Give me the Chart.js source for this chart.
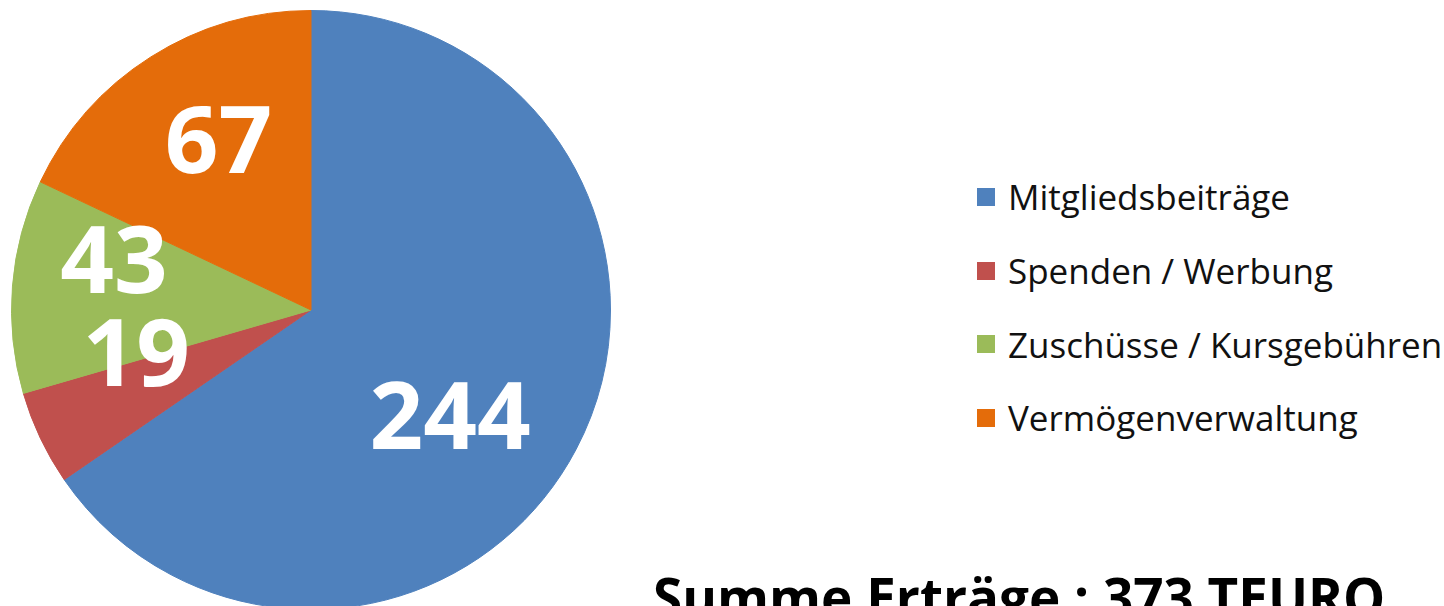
<!DOCTYPE html>
<html>
<head>
<meta charset="utf-8">
<script src="https://cdn.jsdelivr.net/npm/chart.js@4"></script>
<style>
  html, body { margin: 0; padding: 0; background: #fff; }
  body { width: 1444px; height: 606px; overflow: hidden; position: relative; font-family: "Open Sans", sans-serif; }
  #pieBox { position: absolute; left: 0; top: 0; width: 622px; height: 622px; }
  .legend { position: absolute; left: 977px; top: 160px; }
  .legend__item { height: 73.7px; display: flex; align-items: center; font-size: 35px; color: #111; }
  .legend__box { width: 18px; height: 18px; margin-right: 13px; flex: none; }
  .title { position: absolute; left: 653px; top: 560px; font-size: 53px; font-weight: 700; color: #000; white-space: nowrap; }
</style>
</head>
<body>
<div id="pieBox"><canvas id="pie-chart"></canvas></div>
<div class="legend" id="legend"></div>
<div class="title" id="title"></div>
<script>
// data
const categories = ["Mitgliedsbeiträge", "Spenden / Werbung", "Zuschüsse / Kursgebühren", "Vermögenverwaltung"];
const values = [244, 19, 43, 67];
const colors = ["#4F81BD", "#C0504D", "#9BBB59", "#E46C0A"];

/* =============================== */
/* Legend + title */
/* =============================== */
const legend = document.getElementById("legend");
categories.forEach(function (name, i) {
    const row = document.createElement("div");
    row.className = "legend__item";
    row.innerHTML = '<span class="legend__box" style="background:' + colors[i] + '"></span>' + name;
    legend.appendChild(row);
});
const total = values.reduce(function (a, b) { return a + b; }, 0);
document.getElementById("title").textContent = "Summe Erträge : " + total + " TEURO";

/* =============================== */
/* Value labels inside the slices */
/* =============================== */
const sliceLabels = {
    id: "sliceLabels",
    afterDatasetsDraw(chart, args, opts) {
        const ctx = chart.ctx;
        const meta = chart.getDatasetMeta(0);
        ctx.save();
        ctx.fillStyle = "#fff";
        ctx.font = "700 94px 'Open Sans'";
        ctx.textAlign = "center";
        ctx.textBaseline = "middle";
        meta.data.forEach(function (arc, i) {
            const p = arc.getProps(["x", "y", "startAngle", "endAngle", "outerRadius"], true);
            const mid = (p.startAngle + p.endAngle) / 2 + opts.shift[i] * Math.PI / 180;
            const r = p.outerRadius * opts.dist[i];
            ctx.fillText(chart.data.datasets[0].data[i], p.x + Math.cos(mid) * r, p.y + Math.sin(mid) * r + opts.dy);
        });
        ctx.restore();
    }
};

/* =============================== */
/* Chart.js */
/* =============================== */
new Chart(document.getElementById("pie-chart"), {
    type: "pie",
    data: {
        labels: categories,
        datasets: [{
            data: values,
            backgroundColor: colors,
            borderColor: colors,
            borderWidth: 1
        }]
    },
    options: {
        responsive: true,
        maintainAspectRatio: false,
        animation: false,
        layout: { padding: { left: 11, top: 10, right: 11, bottom: 12 } },
        plugins: {
            legend: { display: false },
            tooltip: { enabled: false },
            sliceLabels: {
                shift: [9, 12, 10, 4],
                dist: [0.58, 0.60, 0.68, 0.65],
                dy: 8
            }
        }
    },
    plugins: [sliceLabels]
});
</script>
</body>
</html>
